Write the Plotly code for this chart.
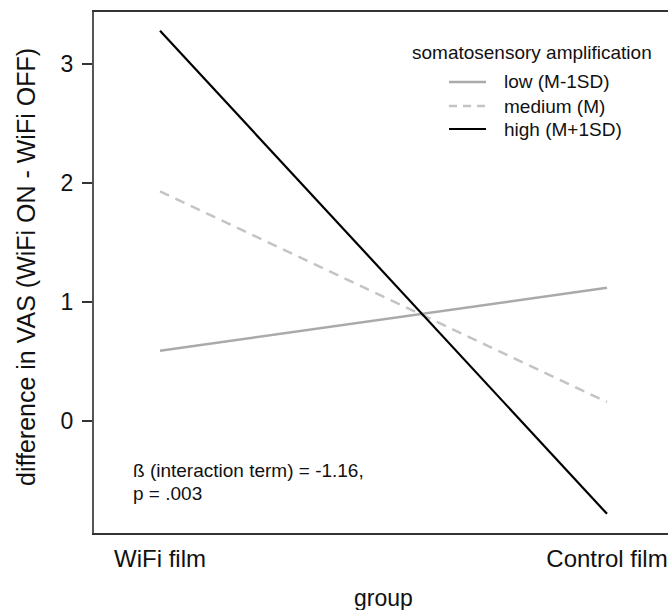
import plotly.graph_objects as go

# ---- data ----
groups = ["WiFi film", "Control film"]
group_pos = [0, 1]
low_vals = [0.59, 1.12]
medium_vals = [1.93, 0.16]
high_vals = [3.28, -0.78]
series_names = ["low (M-1SD)", "medium (M)", "high (M+1SD)"]
y_ticks = [0, 1, 2, 3]
legend_title = "somatosensory amplification"
note_lines = ["ß (interaction term) = -1.16,", "p = .003"]
x_title = "group"
y_title = "difference in VAS (WiFi ON - WiFi OFF)"

# ---- style ----
FONT = "Liberation Sans, Arial, sans-serif"
W, H = 668, 610
ML, MR, MT, MB = 94, 0, 12, 77
styles = [
    dict(color="#aaaaaa", width=2.5, dash="solid"),
    dict(color="#c4c4c4", width=2.5, dash="10px,7px"),
    dict(color="#000000", width=2.2, dash="solid"),
]

fig = go.Figure()
for name, vals, st in zip(series_names, [low_vals, medium_vals, high_vals], styles):
    fig.add_trace(go.Scatter(x=group_pos, y=vals, mode="lines", name=name,
                             line=st, showlegend=False, hoverinfo="skip"))

pw = W - ML - MR
ph = H - MT - MB
def px(x):
    return (x - ML) / pw
def py(y):
    return (H - MB - y) / ph

# manual legend (R style)
shapes = []
annotations = []
annotations.append(dict(x=px(532), y=py(53), xref="paper", yref="paper",
                        text=legend_title, showarrow=False, xanchor="center", yanchor="middle",
                        font=dict(family=FONT, size=19, color="#111111")))
item_y = [82, 106, 129]
for name, st, yy in zip(series_names, styles, item_y):
    shapes.append(dict(type="line", xref="paper", yref="paper",
                       x0=px(449), x1=px(486), y0=py(yy), y1=py(yy),
                       line=dict(color=st["color"], width=st["width"],
                                 dash="8px,6px" if st["dash"] != "solid" else "solid")))
    annotations.append(dict(x=px(502), y=py(yy), xref="paper", yref="paper",
                            text=name, showarrow=False, xanchor="left", yanchor="middle",
                            font=dict(family=FONT, size=19, color="#111111")))

annotations.append(dict(x=px(131), y=py(470), xref="paper", yref="paper",
                        text=note_lines[0], showarrow=False, xanchor="left", yanchor="middle",
                        font=dict(family=FONT, size=19, color="#111111")))
annotations.append(dict(x=px(131), y=py(493), xref="paper", yref="paper",
                        text=note_lines[1], showarrow=False, xanchor="left", yanchor="middle",
                        font=dict(family=FONT, size=19, color="#111111")))

# axis titles
annotations.append(dict(x=px(383), y=py(598), xref="paper", yref="paper",
                        text=x_title, showarrow=False, xanchor="center", yanchor="middle",
                        font=dict(family=FONT, size=23, color="#111111")))
annotations.append(dict(x=px(26), y=py(267), xref="paper", yref="paper",
                        text=y_title, showarrow=False, xanchor="center", yanchor="middle",
                        textangle=-90,
                        font=dict(family=FONT, size=25, color="#111111")))

fig.update_layout(
    width=W, height=H,
    margin=dict(l=ML, r=MR, t=MT, b=MB, pad=0, autoexpand=False),
    paper_bgcolor="white", plot_bgcolor="white",
    showlegend=False,
    shapes=shapes, annotations=annotations,
    font=dict(family=FONT, color="#111111"),
)
fig.update_xaxes(
    range=[-0.1477, 1.1365], tickmode="array", tickvals=group_pos, ticktext=groups,
    showgrid=False, zeroline=False, showline=True, mirror=True, automargin=False,
    linecolor="#333333", linewidth=2, ticks="", ticklabelstandoff=3,
    tickfont=dict(family=FONT, size=24, color="#111111"),
)
fig.update_yaxes(
    range=[-0.941, 3.437], tickmode="array", tickvals=y_ticks,
    showgrid=False, zeroline=False, showline=True, mirror=False, automargin=False,
    linecolor="#555555", linewidth=2, ticks="outside", ticklen=10, tickwidth=1.5,
    tickcolor="#333333", ticklabelstandoff=4,
    tickfont=dict(family=FONT, size=23, color="#111111"),
)

fig.write_html("out.html", config={"displayModeBar": False},
               post_script="document.body.style.margin='0';document.body.style.overflow='hidden';")
